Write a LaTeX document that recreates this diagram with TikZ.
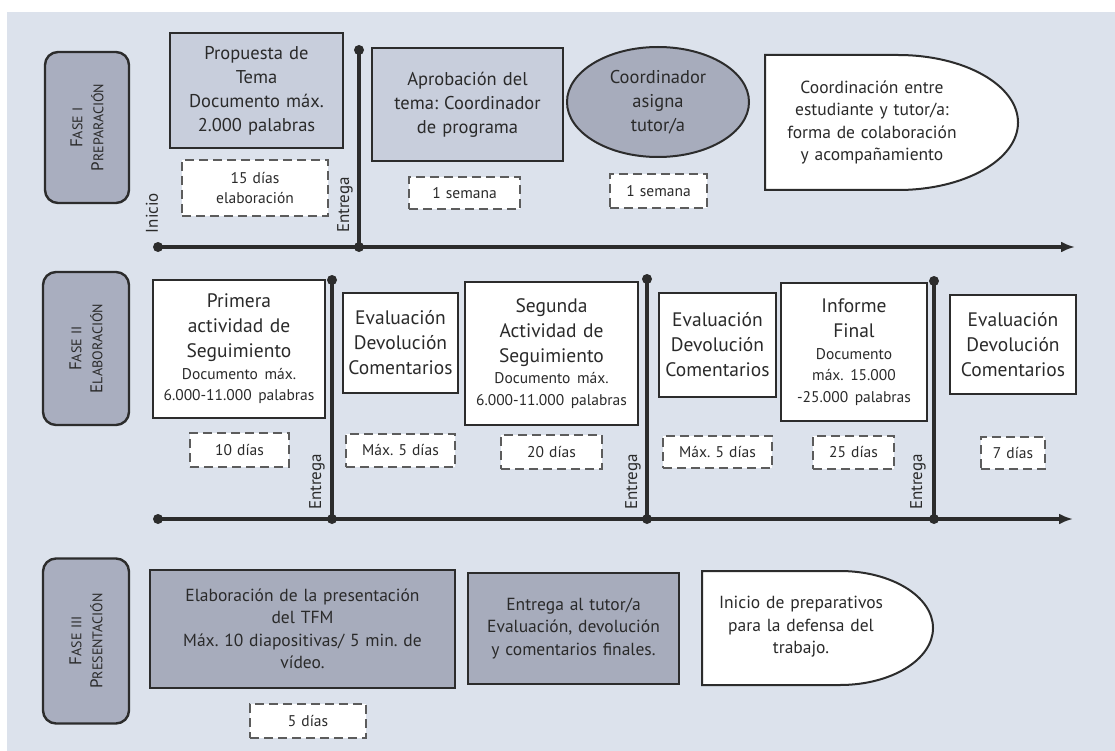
\documentclass[tikz,border=0pt]{standalone}
\usepackage{fontspec}
\setmainfont{PT Sans}
\usetikzlibrary{shapes.geometric,arrows.meta}
\frenchspacing
\definecolor{bgc}{HTML}{DCE2EC}
\definecolor{phasec}{HTML}{A9AEBF}
\definecolor{lightc}{HTML}{C8CEDC}
\definecolor{darkc}{HTML}{A7ACBC}
\definecolor{inkc}{HTML}{2C2C2C}
\definecolor{txtc}{HTML}{2A2A2A}
\definecolor{dashc}{HTML}{5C5C5C}
\newcommand\fbig{\fontsize{19.5}{25}\selectfont}
\newcommand\fsmall{\fontsize{15.5}{21.5}\selectfont}
\newcommand\fone{\fontsize{18.5}{24}\selectfont}
\newcommand\fthree{\fontsize{17.5}{22.5}\selectfont}
\newcommand\fdash{\fontsize{15.5}{20}\selectfont}
\newcommand\fvert{\fontsize{17}{17}\selectfont}
\newcommand\fph{\fontsize{14}{21}\selectfont}
\newcommand\sca[2]{{\fontsize{17}{21}\selectfont #1}{\fph #2}}
\tikzset{
  phasebox/.style={draw=inkc, line width=2.4pt, rounded corners=13pt, fill=phasec,
    rotate=90, align=center, inner sep=0pt, text=txtc, font=\fph},
  basebox/.style={draw=inkc, align=center, inner sep=0pt, text=txtc},
  lightbox/.style={basebox, line width=2.2pt, fill=lightc, font=\fone},
  whitebox/.style={basebox, line width=1.6pt, fill=white, font=\fbig},
  darkbox/.style={basebox, line width=2.2pt, fill=darkc, font=\fthree},
  dashbox/.style={draw=dashc, line width=1.5pt, dash pattern=on 9pt off 5pt, fill=white,
    align=center, inner sep=0pt, text=txtc, font=\fdash},
  dshape/.style={draw=inkc, line width=2pt, fill=white},
  plaintext/.style={align=center, inner sep=0pt, text=txtc},
  dot/.style={circle, fill=inkc, inner sep=0pt, minimum size=10pt},
  tline/.style={draw=inkc, line width=4pt},
  vline/.style={draw=inkc, line width=3.5pt},
  vlabel/.style={rotate=90, inner sep=0pt, text=txtc, font=\fvert},
  tip/.style={-{Latex[length=14pt,width=11pt]}}
}
\begin{document}
\begin{tikzpicture}[x=1pt,y=-1pt]
\useasboundingbox (0,0) rectangle (1115,751);
\fill[white] (0,0) rectangle (1115,751);
\fill[bgc] (7,12) rectangle (1115,751);

% ---------- Phase labels
\node[phasebox, text width=151, minimum height=84] (f1) at (87,127.5)
  {\sca{F}{ASE I}\\\sca{P}{REPARACIÓN}};
\node[phasebox, text width=153, minimum height=86] (f2) at (86,348.5)
  {\sca{F}{ASE II}\\\sca{E}{LABORACIÓN}};
\node[phasebox, text width=165, minimum height=86] (f3) at (86,641)
  {\sca{F}{ASE III}\\\sca{P}{RESENTACIÓN}};

% ---------- Row 1
\coordinate (t1s) at (158,247);
\coordinate (t1e) at (1075,247);
\coordinate (e1a) at (359,50);
\coordinate (e1b) at (359,247);
\draw[tline, tip] (t1s) -- (t1e);
\draw[vline] (e1a) -- (e1b);
\node[dot] (t1sd) at (t1s) {};
\node[dot] (e1ad) at (e1a) {};
\node[dot] (e1bd) at (e1b) {};
\node[vlabel] (inicio) at (152,213) {Inicio};
\node[vlabel] (ent1) at (345,205) {Entrega};

\node[lightbox, text width=173, minimum height=115] (prop) at (256.5,90.5)
  {Propuesta de\\Tema\\Documento máx.\\2.000 palabras};
\node[dashbox, text width=146, minimum height=56] (d15) at (255,188)
  {15 días\\elaboración};
\node[lightbox, text width=191, minimum height=113] (apro) at (467.5,104.5)
  {Aprobación del\\tema: Coordinador\\de programa};
\node[dashbox, text width=111, minimum height=32] (s1) at (464.5,193) {1 semana};
\node[ellipse, draw=inkc, line width=2pt, fill=darkc, text width=125, align=center,
  inner sep=0pt, minimum width=182, minimum height=110, text=txtc, font=\fone]
  (coord) at (658,102) {Coordinador\\asigna\\tutor/a};
\node[dashbox, text width=97, minimum height=34] (s2) at (658.5,191) {1 semana};
\draw[dshape] (765,55) -- (898,55) .. controls (964.3,55) and (1018,85.2) .. (1018,122.5)
  .. controls (1018,159.8) and (964.3,190) .. (898,190) -- (765,190) -- cycle;
\node[plaintext, text width=215, font=\fthree] (coordt) at (872,122.5)
  {Coordinación entre\\estudiante y tutor/a:\\forma de colaboración\\y acompañamiento};

% ---------- Row 2
\coordinate (t2s) at (158,519);
\coordinate (t2e) at (1073,519);
\coordinate (v1a) at (332,280);
\coordinate (v1b) at (332,519);
\coordinate (v2a) at (647,279);
\coordinate (v2b) at (647,519);
\coordinate (v3a) at (934,281);
\coordinate (v3b) at (934,519);
\draw[tline, tip] (t2s) -- (t2e);
\draw[vline] (v1a) -- (v1b);
\draw[vline] (v2a) -- (v2b);
\draw[vline] (v3a) -- (v3b);
\node[dot] (t2sd) at (t2s) {};
\node[dot] (v1ad) at (v1a) {};
\node[dot] (v1bd) at (v1b) {};
\node[dot] (v2ad) at (v2a) {};
\node[dot] (v2bd) at (v2b) {};
\node[dot] (v3ad) at (v3a) {};
\node[dot] (v3bd) at (v3b) {};
\node[vlabel] (ent2) at (317,482) {Entrega};
\node[vlabel] (ent3) at (633,482) {Entrega};
\node[vlabel] (ent4) at (918,482) {Entrega};

\node[whitebox, text width=172, minimum height=138] (prim) at (239,349)
  {Primera\\actividad de\\Seguimiento\par{\fsmall Documento máx.\\6.000-11.000 palabras\par}};
\node[whitebox, text width=115, minimum height=100] (ev1) at (400.5,343)
  {Evaluación\\Devolución\\Comentarios};
\node[whitebox, text width=173, minimum height=143] (seg) at (551.5,353.5)
  {Segunda\\Actividad de\\Seguimiento\par{\fsmall Documento máx.\\6.000-11.000 palabras\par}};
\node[whitebox, text width=117, minimum height=104] (ev2) at (717.5,345)
  {Evaluación\\Devolución\\Comentarios};
\node[whitebox, text width=146, minimum height=138] (inf) at (854,352)
  {Informe\\Final\par{\fsmall Documento\\máx. 15.000\\-25.000 palabras\par}};
\node[whitebox, text width=126, minimum height=99] (ev3) at (1013,344.5)
  {Evaluación\\Devolución\\Comentarios};

\node[dashbox, text width=99, minimum height=34] (d10) at (239.5,450) {10 días};
\node[dashbox, text width=109, minimum height=33] (m5a) at (400.5,450.5) {Máx. 5 días};
\node[dashbox, text width=101, minimum height=34] (d20) at (551.5,452) {20 días};
\node[dashbox, text width=109, minimum height=32] (m5b) at (717.5,452) {Máx. 5 días};
\node[dashbox, text width=81, minimum height=33] (d25) at (853.5,452.5) {25 días};
\node[dashbox, text width=64, minimum height=32] (d7) at (1013,453) {7 días};

% ---------- Row 3
\node[darkbox, text width=305, minimum height=118] (elab) at (302.5,629)
  {Elaboración de la presentación\\del TFM\\Máx. 10 diapositivas/ 5 min. de\\vídeo.};
\node[darkbox, text width=211, minimum height=111] (entt) at (573.5,628.5)
  {Entrega al tutor/a\\Evaluación, devolución\\y comentarios finales.};
\draw[dshape] (702,571) -- (840,571) .. controls (891.4,571) and (933,596.5) .. (933,628)
  .. controls (933,659.5) and (891.4,685) .. (840,685) -- (702,685) -- cycle;
\node[plaintext, text width=200, font=\fthree] (prep) at (801,627)
  {Inicio de preparativos\\para la defensa del\\trabajo.};
\node[dashbox, text width=116, minimum height=34] (d5) at (308,721) {5 días};
\end{tikzpicture}
\end{document}
